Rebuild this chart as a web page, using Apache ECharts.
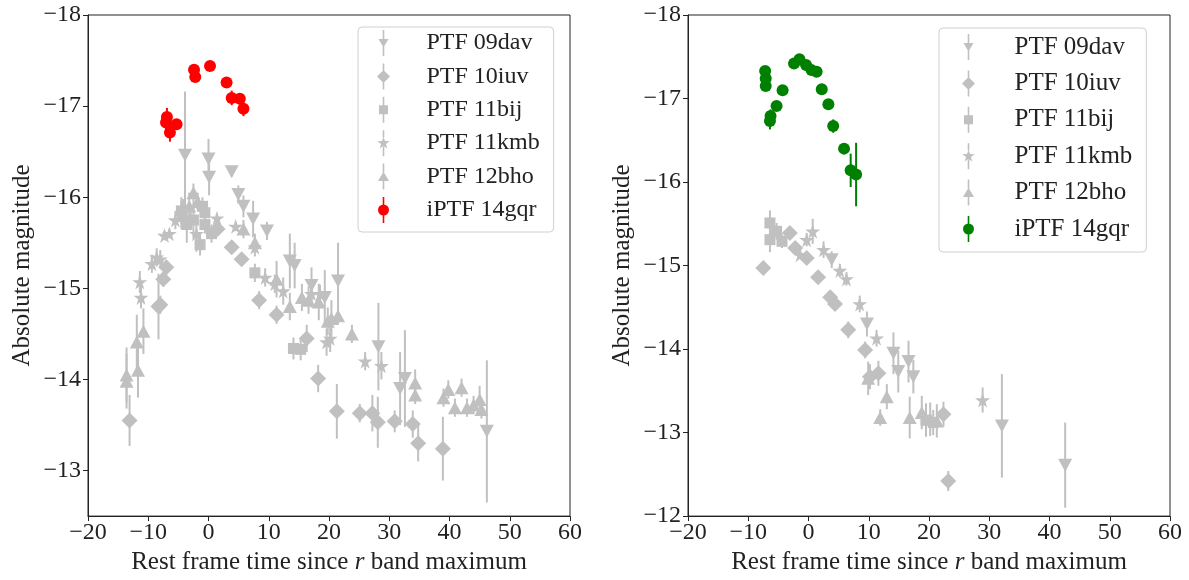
<!DOCTYPE html>
<html>
<head>
<meta charset="utf-8">
<script src="https://cdn.jsdelivr.net/npm/echarts@6/dist/echarts.min.js"></script>
<style>
html,body{margin:0;padding:0;background:#fff;}
#c{width:1189px;height:580px;}
</style>
</head>
<body>
<div id="c"></div>
<script>
// ---- data: [time, absolute magnitude, error] ----
const seriesNames = ['PTF 09dav','PTF 10iuv','PTF 11bij','PTF 11kmb','PTF 12bho','iPTF 14gqr'];
const xTicks = [-20,-10,0,10,20,30,40,50,60];
const yTicksLeft = [-18,-17,-16,-15,-14,-13];
const yTicksRight = [-18,-17,-16,-15,-14,-13,-12];

const L_09dav = [[-3.9,-16.46,0.7],[0.0,-16.42,0.22],[0.1,-16.22,0.2],[3.85,-16.28,0.05],[4.95,-16.03,0.1],[5.8,-15.9,0.12],[7.4,-15.76,0.2],[9.7,-15.63,0.1],[13.5,-15.3,0.3],[14.3,-15.25,0.25],[17.1,-15.03,0.2],[19.3,-14.9,0.3],[21.5,-15.08,0.42],[28.2,-14.36,0.48],[31.8,-13.9,0.4],[32.6,-14.01,0.53],[46.2,-13.43,0.78]];
const L_10iuv = [[-13.1,-13.55,0.28],[-8.3,-14.8,0.36],[-8.0,-14.82,0.1],[-7.5,-15.1,0.08],[-7.0,-15.23,0.08],[1.5,-15.65,0.05],[3.85,-15.45,0.05],[5.5,-15.32,0.05],[8.4,-14.87,0.1],[11.3,-14.71,0.1],[16.3,-14.45,0.15],[18.2,-14.01,0.15],[21.3,-13.65,0.3],[25.1,-13.63,0.1],[27.2,-13.63,0.2],[28.1,-13.53,0.28],[30.9,-13.54,0.12],[33.9,-13.51,0.15],[34.8,-13.3,0.2],[38.9,-13.24,0.35]];
const L_11bij = [[-4.5,-15.85,0.15],[-3.6,-15.7,0.2],[-2.5,-15.75,0.2],[-1.4,-15.48,0.12],[-1.0,-15.9,0.1],[-0.6,-15.83,0.12],[-0.6,-15.7,0.1],[0.5,-15.6,0.1],[7.7,-15.17,0.1],[14.1,-14.34,0.12],[15.3,-14.33,0.12]];
const L_11kmb = [[-11.4,-15.07,0.12],[-11.2,-14.9,0.12],[-9.4,-15.27,0.1],[-8.6,-15.34,0.1],[-8.0,-15.32,0.1],[-7.3,-15.58,0.05],[-6.5,-15.6,0.05],[-5.5,-15.75,0.1],[-4.2,-15.88,0.1],[-3.0,-15.78,0.1],[-2.0,-15.6,0.2],[1.4,-15.77,0.05],[4.5,-15.68,0.05],[7.7,-15.45,0.1],[9.4,-15.12,0.1],[11.0,-15.05,0.1],[12.4,-14.97,0.15],[17.1,-14.94,0.15],[18.5,-14.94,0.1],[19.6,-14.41,0.15],[20.2,-14.45,0.15],[26.0,-14.2,0.1],[28.7,-14.15,0.15]];
const L_12bho = [[-13.6,-14.05,0.3],[-13.6,-13.98,0.3],[-11.7,-14.1,0.3],[-11.9,-14.41,0.3],[-10.8,-14.53,0.25],[-4.5,-15.8,0.15],[-3.2,-15.9,0.15],[-2.5,-16.05,0.1],[-1.8,-15.95,0.1],[5.8,-15.65,0.1],[7.7,-15.5,0.1],[11.3,-15.1,0.2],[13.5,-14.8,0.15],[15.5,-14.9,0.15],[16.6,-14.87,0.15],[18.3,-14.85,0.2],[19.8,-14.64,0.15],[20.4,-14.67,0.2],[21.5,-14.7,0.1],[23.8,-14.5,0.1],[34.3,-13.96,0.15],[34.3,-13.83,0.1],[39.0,-13.8,0.1],[39.8,-13.89,0.1],[40.9,-13.69,0.1],[42.0,-13.91,0.1],[42.9,-13.69,0.1],[44.0,-13.72,0.1],[45.0,-13.78,0.15],[45.3,-13.67,0.1]];
const L_14gqr = [[-6.9,-16.88,0.1],[-7.05,-16.82,0.08],[-6.4,-16.71,0.1],[-5.3,-16.8,0.05],[-2.4,-17.4,0.04],[-2.2,-17.32,0.04],[0.25,-17.44,0.03],[3.0,-17.26,0.04],[3.85,-17.09,0.08],[5.2,-17.08,0.06],[5.8,-16.97,0.08]];

const R_09dav = [[3.85,-15.07,0.1],[9.7,-14.3,0.15],[14.1,-13.95,0.25],[14.9,-13.73,0.25],[16.6,-13.85,0.25],[17.4,-13.67,0.2],[32.1,-13.08,0.62],[42.6,-12.61,0.51]];
const R_10iuv = [[-7.5,-14.97,0.05],[-3.1,-15.39,0.05],[-2.2,-15.21,0.05],[-0.3,-15.09,0.05],[1.6,-14.86,0.05],[3.6,-14.62,0.08],[4.4,-14.54,0.08],[6.6,-14.23,0.1],[9.4,-13.99,0.1],[10.2,-13.67,0.15],[11.6,-13.71,0.15],[22.4,-13.22,0.15],[23.2,-12.42,0.12]];
const R_11bij = [[-6.4,-15.51,0.15],[-6.4,-15.31,0.15],[-5.3,-15.41,0.1],[-4.4,-15.29,0.08],[19.5,-13.15,0.2],[20.7,-13.12,0.15]];
const R_11kmb = [[-1.4,-15.13,0.05],[-0.3,-15.31,0.08],[0.7,-15.41,0.15],[2.5,-15.19,0.1],[5.2,-14.94,0.08],[6.3,-14.84,0.08],[8.5,-14.54,0.1],[11.3,-14.13,0.1],[28.9,-13.39,0.15]];
const R_12bho = [[9.9,-13.65,0.2],[11.9,-13.18,0.1],[13.0,-13.43,0.15],[16.8,-13.18,0.25],[18.8,-13.24,0.2],[20.2,-13.16,0.2],[21.3,-13.14,0.2]];
const R_14gqr = [[-7.2,-17.33,0.04],[-7.1,-17.24,0.04],[-7.1,-17.15,0.04],[-4.3,-17.1,0.04],[-5.3,-16.91,0.05],[-6.3,-16.79,0.08],[-6.4,-16.73,0.1],[-2.4,-17.42,0.03],[-1.5,-17.47,0.03],[-0.4,-17.4,0.03],[0.5,-17.34,0.03],[1.35,-17.32,0.03],[2.2,-17.11,0.04],[3.3,-16.93,0.05],[4.1,-16.67,0.08],[5.9,-16.4,0.06],[7.0,-16.14,0.2],[7.9,-16.09,0.38]];

// ---- styling ----
const GRAY = '#c0c0c0';
const FONT = 'Liberation Serif';
const STAR = 'path://M50,0 L61,35 L98,35 L68,57 L79,91 L50,70 L21,91 L32,57 L2,35 L39,35 Z';
function bar(t, b){ return ' M6.2,0 L7.8,0 L7.8,' + t + ' L6.2,' + t + ' Z M6.2,' + b + ' L7.8,' + b + ' L7.8,26 L6.2,26 Z'; }
const legendIcons = {
  'PTF 09dav': 'path://M2,9 L12,9 L7,17.5 Z' + bar(9.5, 16.5),
  'PTF 10iuv': 'path://M7,6.5 L13.5,13 L7,19.5 L0.5,13 Z' + bar(7, 19),
  'PTF 11bij': 'path://M2.5,8.5 L11.5,8.5 L11.5,17.5 L2.5,17.5 Z' + bar(9, 17),
  'PTF 11kmb': 'path://M7,6.5 L8.53,10.9 L13.18,10.99 L9.47,13.8 L10.82,18.26 L7,15.6 L3.18,18.26 L4.53,13.8 L0.82,10.99 L5.47,10.9 Z' + bar(7, 16),
  'PTF 12bho': 'path://M7,8 L12.5,17.5 L1.5,17.5 Z' + bar(8.5, 17),
  'iPTF 14gqr': 'path://M7,7.5 A5.5,5.5 0 1,1 7,18.5 A5.5,5.5 0 1,1 7,7.5 Z' + bar(8, 18)
};
const markers = {
  'PTF 09dav': {symbol:'triangle', size:[14,13], rotate:180},
  'PTF 10iuv': {symbol:'diamond', size:[16,16], rotate:0},
  'PTF 11bij': {symbol:'rect', size:[11,11], rotate:0},
  'PTF 11kmb': {symbol:STAR, size:[15,15], rotate:0},
  'PTF 12bho': {symbol:'triangle', size:[14,13], rotate:0},
  'iPTF 14gqr': {symbol:'circle', size:[12,12], rotate:0}
};

function minusFmt(v){
  if (Math.round(v) !== v) return '';
  return v < 0 ? '\u2212' + Math.abs(v) : String(v);
}

function makeSeries(name, data, color, gridIdx){
  const m = markers[name];
  return [
    {
      type:'custom', name: name + ' err', xAxisIndex:gridIdx, yAxisIndex:gridIdx,
      data: data, encode:{x:0, y:1}, clip:true, silent:true,
      renderItem: function(params, api){
        const x = api.value(0), y = api.value(1), e = api.value(2);
        const p1 = api.coord([x, y - e]), p2 = api.coord([x, y + e]);
        return {type:'line', shape:{x1:p1[0], y1:p1[1], x2:p2[0], y2:p2[1]},
                style:{stroke:color, lineWidth:2}};
      }
    },
    {
      type:'scatter', name: name, xAxisIndex:gridIdx, yAxisIndex:gridIdx,
      data: data, encode:{x:0, y:1},
      symbol: m.symbol, symbolSize: m.size, symbolRotate: m.rotate,
      itemStyle:{color: color, opacity:1}, silent:true
    }
  ];
}

const leftSets = [L_09dav, L_10iuv, L_11bij, L_11kmb, L_12bho, L_14gqr];
const rightSets = [R_09dav, R_10iuv, R_11bij, R_11kmb, R_12bho, R_14gqr];
const leftColors = [GRAY,GRAY,GRAY,GRAY,GRAY,'#ff0000'];
const rightColors = [GRAY,GRAY,GRAY,GRAY,GRAY,'#008000'];

let series = [];
seriesNames.forEach((n,i)=>{ series = series.concat(makeSeries(n, leftSets[i], leftColors[i], 0)); });
seriesNames.forEach((n,i)=>{ series = series.concat(makeSeries(n, rightSets[i], rightColors[i], 1)); });

function xAxisCfg(gi){
  return {
    type:'value', gridIndex:gi, min:xTicks[0], max:xTicks[xTicks.length-1], interval:10,
    name:'{a|Rest frame time since }{i|r}{a| band maximum}',
    nameLocation:'middle', nameGap:33,
    nameTextStyle:{rich:{a:{fontFamily:FONT, fontSize:25, color:'#222'}, i:{fontFamily:FONT, fontSize:25, fontStyle:'italic', color:'#222'}}},
    axisLine:{show:true, onZero:false, lineStyle:{color:'#222', width:1}},
    axisTick:{show:true, length:5, lineStyle:{color:'#222'}},
    axisLabel:{formatter:minusFmt, fontFamily:FONT, fontSize:24, color:'#222', margin:5},
    splitLine:{show:false}
  };
}
function yAxisCfg(gi, max){
  return {
    type:'value', gridIndex:gi, inverse:true, min:-18, max:max, interval:1,
    name:'Absolute magnitude', nameLocation:'middle', nameGap:53, nameRotate:90,
    nameTextStyle:{fontFamily:FONT, fontSize:25, color:'#222'},
    axisLine:{show:true, onZero:false, lineStyle:{color:'#222', width:1}},
    axisTick:{show:true, length:5, lineStyle:{color:'#222'}},
    axisLabel:{formatter:minusFmt, fontFamily:FONT, fontSize:24, color:'#222', margin:7, showMaxLabel: max === -12},
    splitLine:{show:false}
  };
}
function legendCfg(left, top, gap, padding, colorLast, fontSize, textPad){
  return {
    orient:'vertical', left:left, top:top, itemWidth:26, itemHeight:26, itemGap:gap,
    padding:padding, borderColor:'#d0d0d0', borderWidth:1, borderRadius:4,
    backgroundColor:'rgba(255,255,255,0.8)', selectedMode:false, symbolKeepAspect:true,
    textStyle:{fontFamily:FONT, fontSize:fontSize, color:'#222', padding:[0,0,0,textPad]},
    data: seriesNames.map((n,i)=>({name:n, icon:legendIcons[n],
      itemStyle:{color: i===5 ? colorLast : GRAY}}))
  };
}

const chart = echarts.init(document.getElementById('c'), null, {renderer:'canvas'});
chart.setOption({
  backgroundColor:'#fff',
  animation:false,
  grid:[
    {left:88, top:15, width:482, height:506, show:true, borderColor:'#222', borderWidth:1, backgroundColor:'transparent'},
    {left:688, top:15, width:482, height:506, show:true, borderColor:'#222', borderWidth:1, backgroundColor:'transparent'}
  ],
  xAxis:[xAxisCfg(0), xAxisCfg(1)],
  yAxis:[yAxisCfg(0, -12.5), yAxisCfg(1, -12)],
  legend:[
    legendCfg(358, 27, 7.4, [3,14,9,19], '#ff0000', 24, 25),
    legendCfg(939, 28, 10.4, [6,14,10,23], '#008000', 25, 28)
  ],
  series: series
});
</script>
</body>
</html>
